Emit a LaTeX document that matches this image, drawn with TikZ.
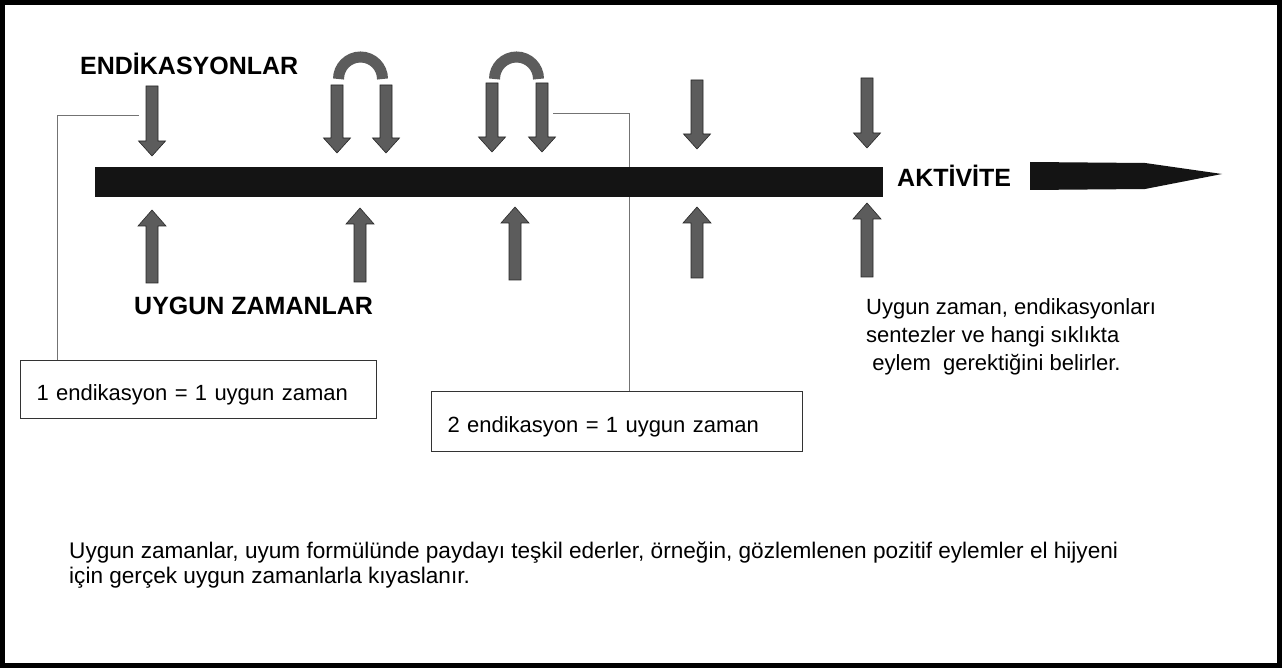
\documentclass[tikz,border=0pt]{standalone}
\usepackage{fontspec}
\setmainfont{Liberation Sans}
\tikzset{
	bigtxt/.style={inner sep=0pt, font=\fontsize{25}{29}\selectfont\bfseries},
	txt/.style={inner sep=0pt, font=\fontsize{22}{27.5}\selectfont},
	eqbox/.style={draw=black!80, line width=1.2pt, inner xsep=16pt, inner ysep=0pt, text height=26pt, text depth=4pt, align=left, font=\fontsize{22}{27}\selectfont},
	leader/.style={draw=black!55, line width=0.8pt},
	arrfill/.style={fill=black!64, draw=black!85, line width=0.6pt},
	archline/.style={draw=black!64, line width=11pt},
	pics/downarr/.style={code={
		\path[arrfill] (-6,0) -- (-6,#1-15) -- (-13.5,#1-15) -- (0,#1) -- (13.5,#1-15) -- (6,#1-15) -- (6,0) -- cycle;
	}},
	pics/uparr/.style={code={
		\path[arrfill] (-6,0) -- (-6,-#1+16) -- (-14,-#1+16) -- (0,-#1) -- (14,-#1+16) -- (6,-#1+16) -- (6,0) -- cycle;
	}}
}
\begin{document}
\begin{tikzpicture}[x=1pt,y=-1pt]
	\useasboundingbox (0,0) rectangle (1282,668);
	\fill[white] (0,0) rectangle (1282,668);
	\draw[line width=5pt] (2.5,2.5) rectangle (1279.5,665.5);
	\node[eqbox, text width=324pt, minimum height=58pt, anchor=north west] (box1) at (20,360) {1 endikasyon = 1 uygun zaman};
	\node[eqbox, text width=339pt, minimum height=60pt, anchor=north west] (box2) at (431,391) {2 endikasyon = 1 uygun zaman};
	\coordinate (l1end) at (139,115);
	\coordinate (l2end) at (553,113);
	\draw[leader] ([xshift=37pt]box1.north west) |- (l1end);
	\draw[leader] (l2end) -| ([xshift=198pt]box2.north west);
	\fill[black!92] (95,167) rectangle (883,197);
	\fill[black!92] (1030,162) -- (1145,163) -- (1222,174) -- (1145,189) -- (1030,190) -- cycle;
	\node[bigtxt, anchor=base west] (endik) at (80,75) {ENDİKASYONLAR};
	\node[bigtxt, anchor=base west] (uygun) at (134,315) {UYGUN ZAMANLAR};
	\node[bigtxt, anchor=base west] (aktivite) at (897,187) {AKTİVİTE};
	\draw[archline] (338.5,79) arc[start angle=180, end angle=360, radius=22];
	\draw[archline] (494.5,79) arc[start angle=180, end angle=360, radius=22];
	\pic at (152,86) {downarr=70};
	\pic at (337,85) {downarr=68};
	\pic at (386,85) {downarr=68};
	\pic at (492,83) {downarr=69};
	\pic at (542,83) {downarr=69};
	\pic at (697,80) {downarr=69};
	\pic at (867,78) {downarr=70};
	\pic at (152,283) {uparr=73};
	\pic at (360,282) {uparr=74};
	\pic at (515,280) {uparr=73};
	\pic at (697,278) {uparr=71};
	\pic at (867,277) {uparr=74};
	\node[txt, align=left, anchor=base west] (rnote) at (866,370) {Uygun zaman, endikasyonları\\sentezler ve hangi sıklıkta\\\ eylem\ \ gerektiğini belirler.};
	\node[txt, align=left, anchor=base west, font=\fontsize{22.6}{25}\selectfont] (bnote) at (69,583) {Uygun zamanlar, uyum formülünde paydayı teşkil ederler, örneğin, gözlemlenen pozitif eylemler el hijyeni\\için gerçek uygun zamanlarla kıyaslanır.};
\end{tikzpicture}
\end{document}
